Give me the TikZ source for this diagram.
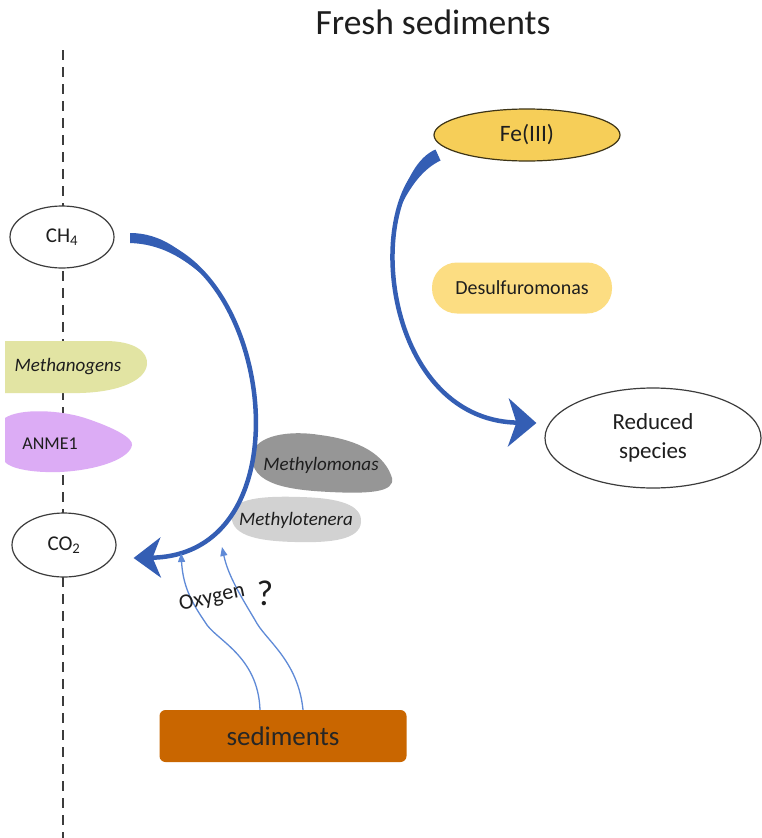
\documentclass[tikz,border=0pt]{standalone}
\usepackage{fontspec}
\setmainfont{Carlito}
\usetikzlibrary{shapes.geometric,arrows.meta,calc}
\definecolor{arrblue}{RGB}{52,94,180}
\definecolor{thinblue}{RGB}{95,138,215}
\definecolor{methfill}{RGB}{226,228,163}
\definecolor{anmefill}{RGB}{220,172,245}
\definecolor{mmonfill}{RGB}{150,150,150}
\definecolor{mtenfill}{RGB}{210,210,210}
\definecolor{fefill}{RGB}{246,206,88}
\definecolor{desfill}{RGB}{252,221,130}
\definecolor{sedfill}{RGB}{201,102,0}
\definecolor{txt}{RGB}{30,30,30}
\definecolor{edge}{RGB}{60,60,60}
\begin{document}
\begin{tikzpicture}[x=1pt,y=-1pt,
  ell/.style={ellipse,draw=edge,line width=1.2pt,fill=white,inner sep=0pt,text=txt},
  blobtext/.style={text=txt,font=\fontsize{19}{21}\selectfont\itshape},
  bigarrow/.style={draw=arrblue,line width=4.5pt},
  thinarrow/.style={draw=thinblue,line width=1.3pt,-{Triangle[length=9pt,width=7pt]}},
  dashline/.style={draw=edge,line width=2pt,dash pattern=on 10pt off 7pt}]
\useasboundingbox (0,0) rectangle (761,838);
\fill[white] (0,0) rectangle (761,838);

% dashed vertical line
\coordinate (dtop) at (63,50);
\coordinate (dbot) at (63,838);
\draw[dashline] (dtop) -- (dbot);

% title
\node[text=txt,font=\fontsize{35.5}{38}\selectfont] (title) at (433,22) {Fresh sediments};

% blobs on left
\fill[methfill] (5,341) -- (105,341) .. controls (135,341) and (148,352) .. (147,364)
  .. controls (146,380) and (120,392) .. (80,393) -- (5,393) -- cycle;
\node[blobtext] (meth) at (68,367) {Methanogens};

\fill[anmefill] (5,418) .. controls (20,408) and (60,410) .. (85,418)
  .. controls (115,428) and (133,438) .. (132,445)
  .. controls (130,458) and (100,470) .. (60,472)
  .. controls (30,473) and (10,468) .. (5,462) -- cycle;
\node[text=txt,font=\fontsize{18}{20}\selectfont] (anme) at (50,444) {ANME1};

% blobs in middle
\fill[mmonfill] (252,455) .. controls (255,435) and (290,430) .. (320,435)
  .. controls (360,440) and (385,455) .. (392,478)
  .. controls (395,492) and (370,494) .. (330,492)
  .. controls (290,490) and (250,485) .. (252,455) -- cycle;
\node[blobtext] (mmon) at (321,465) {Methylomonas};

\fill[mtenfill] (232,512) .. controls (236,497) and (270,496) .. (300,497)
  .. controls (340,498) and (362,505) .. (361,522)
  .. controls (360,540) and (330,543) .. (295,542)
  .. controls (255,541) and (228,535) .. (232,512) -- cycle;
\node[blobtext] (mten) at (296,520) {Methylotenera};

% ellipse nodes
\node[ell,minimum width=104pt,minimum height=62pt,font=\fontsize{21}{24}\selectfont] (ch4) at (62,237) {CH\textsubscript{4}};
\node[ell,minimum width=104pt,minimum height=64pt,font=\fontsize{21}{24}\selectfont] (co2) at (64,545) {CO\textsubscript{2}};
\node[ell,fill=fefill,draw=black!75!fefill,minimum width=186pt,minimum height=52pt,font=\fontsize{23.5}{26}\selectfont] (fe) at (527,135) {Fe(III)};
\node[ell,minimum width=216pt,minimum height=100pt,align=center,font=\fontsize{23}{29}\selectfont] (red) at (653,438) {Reduced\\species};
\node[fill=desfill,rounded corners=25pt,minimum width=180pt,minimum height=51pt,text=txt,font=\fontsize{20}{22}\selectfont] (des) at (522,288) {Desulfuromonas};

% sediments box
\node[fill=sedfill,rounded corners=6pt,minimum width=247pt,minimum height=52pt,text=black!85,font=\fontsize{27}{30}\selectfont] (sed) at (283,736) {sediments};

% big arrow CH4 -> CO2
\coordinate (a1s) at ($(ch4.east)+(16,1)$);
\coordinate (a1e) at ($(co2.east)+(17,13)$);
\draw[bigarrow,-{Stealth[length=27pt,width=40pt,inset=8pt]}] (a1s) .. controls (270,240) and (315,555) .. (a1e);
\fill[arrblue] (130,233) .. controls (160,233) and (185,250) .. (207,279)
  .. controls (183,257) and (160,244) .. (130,243) -- cycle;

% big arrow Fe(III) -> Reduced species
\coordinate (a2s) at ($(fe.west)+(4,20)$);
\coordinate (a2e) at ($(red.west)+(-8,-15)$);
\draw[bigarrow,-{Stealth[length=28pt,width=48pt,inset=8pt]}] (a2s) .. controls (360,190) and (380,420) .. (a2e);
\fill[arrblue] (435.5,149.5) .. controls (418,157) and (405,180) .. (398.5,211)
  .. controls (410,186) and (423,169) .. (440.5,160.5) -- cycle;

% oxygen arrows
\coordinate (o1s) at ($(sed.north)+(-23,0)$);
\coordinate (o2s) at ($(sed.north)+(20,0)$);
\coordinate (o1e) at (181,553);
\coordinate (o2e) at (222,547);
\draw[thinarrow] (o1s) .. controls (258,655) and (215,640) .. (205,622) .. controls (190,600) and (183,585) .. (o1e);
\draw[thinarrow] (o2s) .. controls (298,660) and (265,640) .. (255,620) .. controls (240,595) and (228,575) .. (o2e);

\node[text=txt,inner sep=0pt,rotate=12,font=\fontsize{22}{24}\selectfont] (oxy) at (212,598) {Oxygen};
\node[text=txt,inner sep=0pt,font=\fontsize{36}{40}\selectfont] (qm) at (265,593) {?};
\end{tikzpicture}
\end{document}
